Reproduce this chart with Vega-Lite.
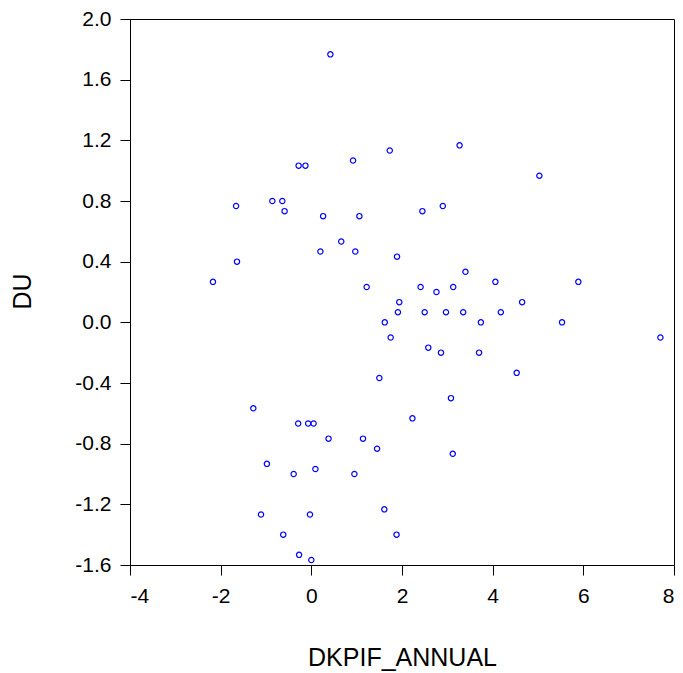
{
  "$schema": "https://vega.github.io/schema/vega-lite/v6.json",
  "autosize": {"type": "none"},
  "padding": {"left": 130, "top": 19, "right": 9, "bottom": 108},
  "width": 544,
  "height": 546,
  "background": "white",
  "config": {
    "view": {"stroke": "#000000", "strokeWidth": 1},
    "font": "Liberation Sans",
    "axis": {
      "grid": false,
      "domainColor": "#000000",
      "domainWidth": 1,
      "tickColor": "#000000",
      "tickWidth": 1,
      "tickSize": 10,
      "labelFont": "Liberation Sans",
      "labelFontSize": 21,
      "labelColor": "#000000",
      "titleFont": "Liberation Sans",
      "titleFontSize": 25,
      "titleFontWeight": "normal",
      "titleColor": "#000000"
    }
  },
  "data": {
    "values": [
      {"DKPIF_ANNUAL": 0.42, "DU": 1.767},
      {"DKPIF_ANNUAL": 3.27, "DU": 1.167},
      {"DKPIF_ANNUAL": 1.73, "DU": 1.133},
      {"DKPIF_ANNUAL": 0.92, "DU": 1.067},
      {"DKPIF_ANNUAL": -0.28, "DU": 1.033},
      {"DKPIF_ANNUAL": -0.13, "DU": 1.033},
      {"DKPIF_ANNUAL": 5.03, "DU": 0.967},
      {"DKPIF_ANNUAL": -0.86, "DU": 0.8},
      {"DKPIF_ANNUAL": -0.64, "DU": 0.8},
      {"DKPIF_ANNUAL": -1.66, "DU": 0.767},
      {"DKPIF_ANNUAL": 2.9, "DU": 0.767},
      {"DKPIF_ANNUAL": -0.59, "DU": 0.733},
      {"DKPIF_ANNUAL": 2.45, "DU": 0.733},
      {"DKPIF_ANNUAL": 0.26, "DU": 0.7},
      {"DKPIF_ANNUAL": 1.06, "DU": 0.7},
      {"DKPIF_ANNUAL": 0.66, "DU": 0.533},
      {"DKPIF_ANNUAL": 0.2, "DU": 0.467},
      {"DKPIF_ANNUAL": 0.97, "DU": 0.467},
      {"DKPIF_ANNUAL": 1.89, "DU": 0.433},
      {"DKPIF_ANNUAL": -1.64, "DU": 0.4},
      {"DKPIF_ANNUAL": 3.4, "DU": 0.333},
      {"DKPIF_ANNUAL": -2.17, "DU": 0.267},
      {"DKPIF_ANNUAL": 4.06, "DU": 0.267},
      {"DKPIF_ANNUAL": 5.89, "DU": 0.267},
      {"DKPIF_ANNUAL": 1.22, "DU": 0.233},
      {"DKPIF_ANNUAL": 2.41, "DU": 0.233},
      {"DKPIF_ANNUAL": 3.13, "DU": 0.233},
      {"DKPIF_ANNUAL": 2.76, "DU": 0.2},
      {"DKPIF_ANNUAL": 1.94, "DU": 0.133},
      {"DKPIF_ANNUAL": 4.65, "DU": 0.133},
      {"DKPIF_ANNUAL": 1.91, "DU": 0.067},
      {"DKPIF_ANNUAL": 2.5, "DU": 0.067},
      {"DKPIF_ANNUAL": 2.97, "DU": 0.067},
      {"DKPIF_ANNUAL": 3.35, "DU": 0.067},
      {"DKPIF_ANNUAL": 4.18, "DU": 0.067},
      {"DKPIF_ANNUAL": 1.62, "DU": 0.0},
      {"DKPIF_ANNUAL": 3.74, "DU": 0.0},
      {"DKPIF_ANNUAL": 5.53, "DU": 0.0},
      {"DKPIF_ANNUAL": 1.75, "DU": -0.1},
      {"DKPIF_ANNUAL": 7.7, "DU": -0.1},
      {"DKPIF_ANNUAL": 2.58, "DU": -0.167},
      {"DKPIF_ANNUAL": 2.86, "DU": -0.2},
      {"DKPIF_ANNUAL": 3.7, "DU": -0.2},
      {"DKPIF_ANNUAL": 4.53, "DU": -0.333},
      {"DKPIF_ANNUAL": 1.5, "DU": -0.367},
      {"DKPIF_ANNUAL": 3.08, "DU": -0.5},
      {"DKPIF_ANNUAL": -1.28, "DU": -0.567},
      {"DKPIF_ANNUAL": 2.23, "DU": -0.633},
      {"DKPIF_ANNUAL": -0.29, "DU": -0.667},
      {"DKPIF_ANNUAL": -0.07, "DU": -0.667},
      {"DKPIF_ANNUAL": 0.05, "DU": -0.667},
      {"DKPIF_ANNUAL": 0.38, "DU": -0.767},
      {"DKPIF_ANNUAL": 1.14, "DU": -0.767},
      {"DKPIF_ANNUAL": 1.45, "DU": -0.833},
      {"DKPIF_ANNUAL": 3.12, "DU": -0.867},
      {"DKPIF_ANNUAL": -0.98, "DU": -0.933},
      {"DKPIF_ANNUAL": 0.09, "DU": -0.967},
      {"DKPIF_ANNUAL": -0.39, "DU": -1.0},
      {"DKPIF_ANNUAL": 0.95, "DU": -1.0},
      {"DKPIF_ANNUAL": 1.61, "DU": -1.233},
      {"DKPIF_ANNUAL": -1.11, "DU": -1.267},
      {"DKPIF_ANNUAL": -0.03, "DU": -1.267},
      {"DKPIF_ANNUAL": -0.62, "DU": -1.4},
      {"DKPIF_ANNUAL": 1.88, "DU": -1.4},
      {"DKPIF_ANNUAL": -0.27, "DU": -1.533},
      {"DKPIF_ANNUAL": 0.0, "DU": -1.567}
    ]
  },
  "mark": {"type": "point", "shape": "circle", "filled": false, "color": "#0000FF", "strokeWidth": 1.2, "size": 28, "opacity": 1},
  "encoding": {
    "x": {
      "field": "DKPIF_ANNUAL",
      "type": "quantitative",
      "scale": {"domain": [-4, 8], "nice": false, "zero": false},
      "axis": {
        "title": "DKPIF_ANNUAL",
        "values": [-4, -2, 0, 2, 4, 6, 8],
        "format": "d",
        "labelExpr": "replace(datum.label, '−', '-')",
        "labelBaseline": "alphabetic",
        "labelPadding": 27,
        "titleBaseline": "alphabetic",
        "titleX": 272,
        "titleY": 100
      }
    },
    "y": {
      "field": "DU",
      "type": "quantitative",
      "scale": {"domain": [-1.6, 2.0], "nice": false, "zero": false},
      "axis": {
        "title": "DU",
        "values": [-1.6, -1.2, -0.8, -0.4, 0, 0.4, 0.8, 1.2, 1.6, 2.0],
        "format": ".1f",
        "labelExpr": "replace(datum.label, '−', '-')",
        "labelPadding": 9,
        "titleBaseline": "alphabetic",
        "titleX": -100,
        "titleY": 272
      }
    }
  }
}
